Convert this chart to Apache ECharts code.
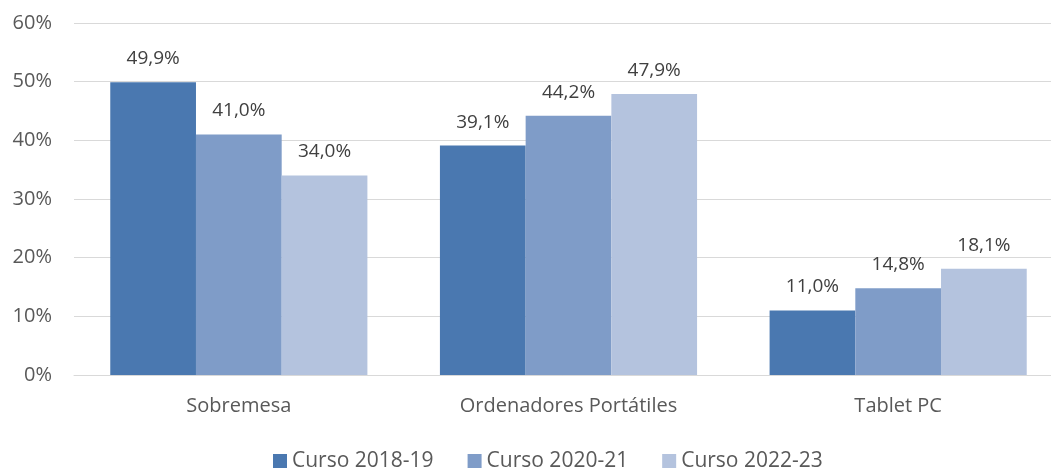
<!DOCTYPE html>
<html>
<head>
<meta charset="utf-8">
<script src="https://cdn.jsdelivr.net/npm/echarts@6/dist/echarts.min.js"></script>
<style>
  html, body { margin: 0; padding: 0; background: #fff; }
  #chart { width: 1051px; height: 468px; }
</style>
</head>
<body>
<div id="chart"></div>
<script>
const categories = ['Sobremesa', 'Ordenadores Portátiles', 'Tablet PC']
const seriesNames = ['Curso 2018-19', 'Curso 2020-21', 'Curso 2022-23']
const curso1819 = [49.9, 39.1, 11.0]
const curso2021 = [41.0, 44.2, 14.8]
const curso2223 = [34.0, 47.9, 18.1]
const colors = ['#4a78b0', '#7f9cc8', '#b4c3de']

const font = 'Open Sans, Liberation Sans, sans-serif'
const chart = echarts.init(document.getElementById('chart'))

function makeSeries(name, data, color) {
  return {
    name: name,
    type: 'bar',
    data: data,
    barGap: '0%',
    barCategoryGap: '22%',
    itemStyle: { color: color },
    label: {
      show: true,
      position: 'top',
      distance: 14,
      color: '#404040',
      fontSize: 19,
      fontFamily: font,
      formatter: p => p.value.toFixed(1).replace('.', ',') + '%'
    }
  }
}

chart.setOption({
  animation: false,
  // plot area runs a little past the right edge, as in the reference
  grid: { left: 74, width: 989, top: 23, bottom: 93, containLabel: false, outerBoundsMode: 'none' },
  legend: {
    top: 450,
    left: 273,
    padding: 0,
    itemWidth: 14,
    itemHeight: 14,
    itemGap: 34,
    icon: 'rect',
    textStyle: { color: '#595959', fontSize: 21, fontFamily: font, lineHeight: 22 },
    data: seriesNames
  },
  xAxis: {
    type: 'category',
    data: categories,
    axisTick: { show: false },
    axisLine: { lineStyle: { color: '#d9d9d9', width: 1 } },
    axisLabel: { color: '#595959', fontSize: 20, fontFamily: font, margin: 21 }
  },
  yAxis: {
    type: 'value',
    min: 0,
    max: 60,
    interval: 10,
    axisLine: { show: false },
    axisTick: { show: false },
    splitLine: { lineStyle: { color: '#d9d9d9', width: 1 } },
    axisLabel: { color: '#595959', fontSize: 20, fontFamily: font, margin: 22, formatter: '{value}%' }
  },
  series: [
    makeSeries(seriesNames[0], curso1819, colors[0]),
    makeSeries(seriesNames[1], curso2021, colors[1]),
    makeSeries(seriesNames[2], curso2223, colors[2])
  ]
})
</script>
</body>
</html>
